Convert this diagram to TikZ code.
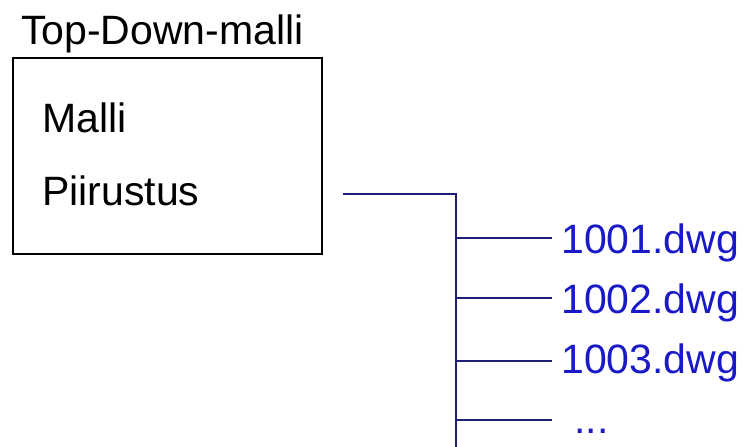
\documentclass[tikz,border=0pt]{standalone}
\usepackage{fontspec}
\setmainfont{Liberation Sans}
\definecolor{linenavy}{RGB}{30,30,120}
\definecolor{fileblue}{RGB}{25,25,200}
\begin{document}
\begin{tikzpicture}[x=1pt,y=-1pt,
  lbl/.style={anchor=base west,inner sep=0pt,font=\fontsize{41}{49}\selectfont},
  filelbl/.style={lbl,text=fileblue},
  conn/.style={draw=linenavy,line width=2pt}]
\useasboundingbox (0,0) rectangle (747,447);
\fill[white] (0,0) rectangle (747,447);
\node[lbl] (title) at (21,44) {Top-Down-malli};
\draw[line width=2pt] (13,58) rectangle (322,254);
\node[lbl] (malli) at (42,132) {Malli};
\node[lbl] (piir) at (42,205) {Piirustus};
\node[filelbl] (f1) at (561,253) {1001.dwg};
\node[filelbl] (f2) at (561,313) {1002.dwg};
\node[filelbl] (f3) at (561,373) {1003.dwg};
\node[filelbl] (f4) at (574,433) {...};
\coordinate (start) at (343,194);
\coordinate (junc) at (456,194);
\coordinate (bot) at (456,447);
\coordinate (b1) at (456,238);
\coordinate (b2) at (456,298);
\coordinate (b3) at (456,361);
\coordinate (b4) at (456,420);
\coordinate (e1) at (552,238);
\coordinate (e2) at (552,298);
\coordinate (e3) at (552,361);
\coordinate (e4) at (552,420);
\draw[conn] (start) -- (junc) -- (bot);
\draw[conn] (b1) -- (e1);
\draw[conn] (b2) -- (e2);
\draw[conn] (b3) -- (e3);
\draw[conn] (b4) -- (e4);
\end{tikzpicture}
\end{document}
